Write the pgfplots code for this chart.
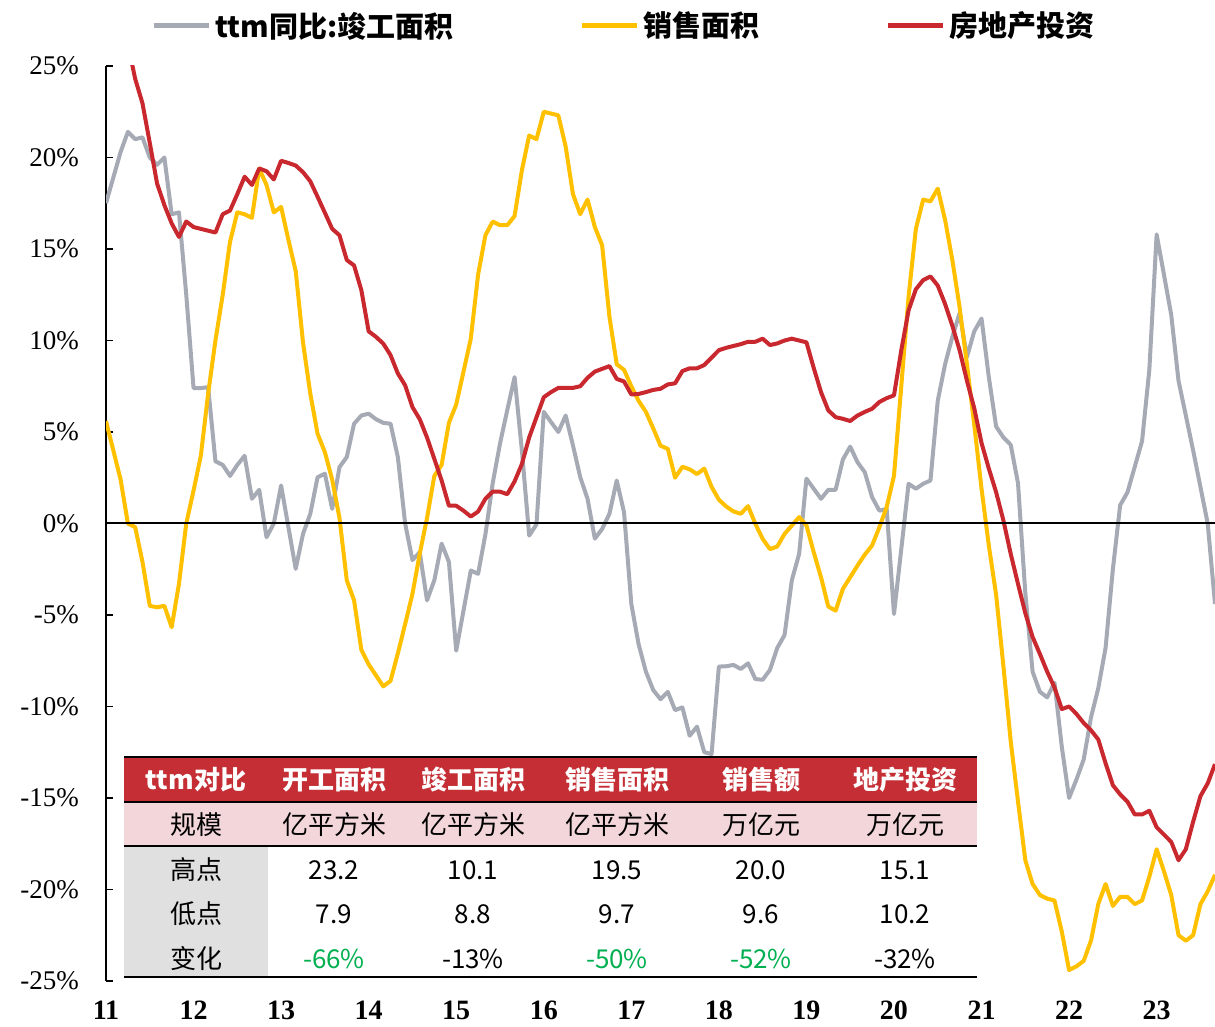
\documentclass[border=0pt]{standalone}
\usepackage{fontspec}
\setmainfont{Liberation Serif}
\newfontfamily\cjk{Noto Sans CJK SC}
\usepackage{pgfplots}
\usepackage{pgfplotstable}
\pgfplotsset{compat=1.18}

\definecolor{lineGray}{RGB}{165,170,180}
\definecolor{lineYellow}{RGB}{255,192,0}
\definecolor{lineRed}{RGB}{200,40,46}
\definecolor{tabRed}{RGB}{196,46,52}
\definecolor{tabPink}{RGB}{242,214,217}
\definecolor{tabGray}{RGB}{224,224,224}
\definecolor{tabGreen}{RGB}{0,176,80}

% i = month index from 2011-01; g = ttm completed area, s = sales area, r = investment (yoy, %)
\pgfplotstableread{
i g s r
0 17.5 5.6 30.0
1 18.9 4.0 29.0
2 20.3 2.4 27.8
3 21.4 0.0 26.2
4 21.0 -0.2 24.3
5 21.1 -2.1 22.96
6 20.0 -4.5 20.8
7 19.6 -4.58 18.58
8 20.0 -4.5 17.4
9 16.9 -5.67 16.4
10 17.0 -3.3 15.66
11 12.5 0.0 16.5
12 7.4 1.8 16.2
13 7.4 3.7 16.1
14 7.45 7.1 16.0
15 3.4 10.0 15.9
16 3.2 12.5 16.9
17 2.6 15.4 17.1
18 3.2 17.0 18.0
19 3.7 16.9 18.95
20 1.35 16.7 18.5
21 1.84 19.4 19.4
22 -0.75 18.5 19.25
23 0.0 17.0 18.8
24 2.08 17.3 19.82
25 -0.2 15.5 19.7
26 -2.48 13.8 19.56
27 -0.57 9.9 19.2
28 0.53 7.1 18.7
29 2.53 4.9 17.85
30 2.72 3.9 16.98
31 0.8 2.4 16.1
32 3.08 0.3 15.75
33 3.63 -3.1 14.4
34 5.45 -4.2 14.1
35 5.9 -6.9 12.75
36 6.0 -7.7 10.5
37 5.7 -8.3 10.2
38 5.5 -8.9 9.83
39 5.45 -8.6 9.2
40 3.63 -7.1 8.2
41 0.0 -5.5 7.55
42 -2.0 -3.85 6.36
43 -1.57 -1.66 5.7
44 -4.2 0.3 4.7
45 -3.1 2.6 3.53
46 -1.1 3.2 2.35
47 -2.1 5.5 0.97
48 -6.95 6.5 0.97
49 -4.76 8.3 0.7
50 -2.57 10.1 0.38
51 -2.75 13.6 0.65
52 -0.6 15.75 1.35
53 2.2 16.5 1.74
54 4.36 16.3 1.74
55 6.2 16.3 1.6
56 8.0 16.8 2.3
57 4.0 19.3 3.25
58 -0.66 21.2 4.7
59 -0.05 21.0 5.8
60 6.1 22.5 6.9
61 5.54 22.4 7.18
62 5.0 22.3 7.41
63 5.9 20.6 7.41
64 4.27 18.0 7.41
65 2.53 16.9 7.5
66 1.35 17.7 7.96
67 -0.83 16.2 8.3
68 -0.3 15.2 8.45
69 0.53 11.3 8.6
70 2.35 8.7 7.9
71 0.62 8.4 7.76
72 -4.4 7.5 7.05
73 -6.6 6.7 7.08
74 -8.1 6.1 7.18
75 -9.1 5.2 7.3
76 -9.6 4.25 7.36
77 -9.2 4.08 7.6
78 -10.2 2.5 7.66
79 -10.05 3.1 8.33
80 -11.6 2.96 8.48
81 -11.1 2.7 8.48
82 -12.5 3.0 8.66
83 -12.6 2.0 9.06
84 -7.82 1.3 9.47
85 -7.8 0.93 9.6
86 -7.73 0.66 9.7
87 -7.95 0.53 9.8
88 -7.64 0.95 9.93
89 -8.5 -0.02 9.93
90 -8.54 -0.84 10.1
91 -8.0 -1.4 9.75
92 -6.8 -1.26 9.84
93 -6.1 -0.57 10.0
94 -3.1 -0.11 10.1
95 -1.66 0.35 10.0
96 2.45 -0.1 9.9
97 1.9 -1.57 8.5
98 1.35 -2.94 7.18
99 1.84 -4.54 6.18
100 1.84 -4.76 5.81
101 3.5 -3.57 5.72
102 4.2 -2.94 5.6
103 3.35 -2.3 5.9
104 2.8 -1.7 6.1
105 1.44 -1.2 6.27
106 0.7 -0.2 6.64
107 0.8 0.9 6.85
108 -4.95 2.6 7.0
109 -1.4 7.5 9.46
110 2.17 12.4 11.65
111 1.9 16.1 12.8
112 2.17 17.7 13.3
113 2.35 17.6 13.5
114 6.7 18.3 13.0
115 8.7 16.6 12.0
116 10.2 14.4 10.8
117 11.5 11.8 9.46
118 9.1 8.7 7.8
119 10.5 5.4 6.3
120 11.2 1.9 4.4
121 8.0 -1.2 3.0
122 5.3 -3.9 1.71
123 4.7 -7.8 0.16
124 4.3 -11.9 -1.66
125 2.2 -15.2 -3.3
126 -3.8 -18.4 -4.9
127 -8.1 -19.7 -6.2
128 -9.2 -20.3 -7.13
129 -9.5 -20.5 -8.1
130 -8.7 -20.6 -8.96
131 -12.2 -22.3 -10.14
132 -15.0 -24.4 -10.0
133 -14.0 -24.2 -10.4
134 -12.9 -23.9 -10.9
135 -10.6 -22.8 -11.3
136 -9.0 -20.8 -11.8
137 -6.8 -19.7 -13.1
138 -2.5 -20.9 -14.3
139 1.0 -20.4 -14.8
140 1.7 -20.4 -15.2
141 3.1 -20.8 -15.9
142 4.5 -20.6 -15.9
143 8.4 -19.3 -15.7
144 15.8 -17.8 -16.6
145 13.6 -19.0 -17.0
146 11.4 -20.3 -17.4
147 7.8 -22.5 -18.4
148 5.9 -22.8 -17.8
149 4.0 -22.5 -16.3
150 2.0 -20.8 -14.9
151 0.0 -20.1 -14.2
152 -4.4 -19.2 -13.15
}\ttmdata

\newcommand{\tabfont}{\cjk\fontsize{13}{15}\selectfont}

\begin{document}
\begin{tikzpicture}[x=1pt,y=1pt]
    \path[use as bounding box] (-53,-23) rectangle (554.5,490.5);

    \begin{axis}[
            at={(0,0)},
            anchor=south west,
            scale only axis,
            width=554.5pt,
            height=457.5pt,
            xmin=0, xmax=152,
            ymin=-25, ymax=25,
            axis y line*=left,
            axis x line*=bottom,
            axis line style={-},
            x axis line style={draw=none},
            y axis line style={black, line width=1pt},
            xtick={0,12,24,36,48,60,72,84,96,108,120,132,144},
            xticklabels={11,12,13,14,15,16,17,18,19,20,21,22,23},
            xtick style={draw=none},
            xticklabel style={font=\bfseries\fontsize{14}{16}\selectfont, inner sep=0pt, anchor=base, yshift=-19.5pt},
            ytick={-25,-20,-15,-10,-5,0,5,10,15,20,25},
            yticklabels={-25\%,-20\%,-15\%,-10\%,-5\%,0\%,5\%,10\%,15\%,20\%,25\%},
            yticklabel style={font=\fontsize{13.5}{16}\selectfont, xshift=-10pt},
            ytick style={black, line width=0.8pt},
            tick align=inside,
            major tick length=3.5pt,
            legend columns=3,
            legend style={
                    at={(0.468,1)},
                    anchor=center,
                    yshift=20pt,
                    draw=none,
                    fill=none,
                    font=\cjk\bfseries\fontsize{14.5}{16}\selectfont,
                    /tikz/every even column/.append style={column sep=61pt},
                },
            legend image code/.code={\draw[line width=2.5pt] (0pt,0pt) -- (27.5pt,0pt);},
        ]

        \addplot[lineGray, line width=2pt, line join=round] table[x=i, y=g] {\ttmdata};
        \addlegendentry{ttm同比:竣工面积}

        \addplot[lineYellow, line width=2pt, line join=round] table[x=i, y=s] {\ttmdata};
        \addlegendentry{销售面积}

        \addplot[lineRed, line width=2pt, line join=round] table[x=i, y=r] {\ttmdata};
        \addlegendentry{房地产投资}

        \draw[black, line width=1pt] (axis cs:0,0) -- (axis cs:152,0);
    \end{axis}

    % summary table
    \fill[tabRed] (9,89.5) rectangle (435.5,112);
    \fill[tabPink] (9,67.5) rectangle (435.5,89.5);
    \fill[white] (81,2) rectangle (435.5,67.5);
    \fill[tabGray] (9,2) rectangle (81,67.5);
    \foreach \yy in {112,89.5,67.5,2} {
        \draw[black, line width=0.8pt] (9,\yy) -- (435.5,\yy);
    }

    \foreach \xx/\txt in {45/ttm对比,114/开工面积,183.5/竣工面积,255.5/销售面积,327.5/销售额,399.5/地产投资} {
        \node[text=white, font=\tabfont\bfseries] at (\xx,100.5) {\txt};
    }
    \foreach \xx/\txt in {45/规模,114/亿平方米,183.5/亿平方米,255.5/亿平方米,327.5/万亿元,399.5/万亿元} {
        \node[font=\tabfont] at (\xx,78) {\txt};
    }
    \foreach \xx/\txt in {45/高点,114/23.2,183.5/10.1,255.5/19.5,327.5/20.0,399.5/15.1} {
        \node[font=\tabfont] at (\xx,55.5) {\txt};
    }
    \foreach \xx/\txt in {45/低点,114/7.9,183.5/8.8,255.5/9.7,327.5/9.6,399.5/10.2} {
        \node[font=\tabfont] at (\xx,33.5) {\txt};
    }
    \node[font=\tabfont] at (45,11) {变化};
    \node[font=\tabfont, text=tabGreen] at (114,11) {-66\%};
    \node[font=\tabfont] at (183.5,11) {-13\%};
    \node[font=\tabfont, text=tabGreen] at (255.5,11) {-50\%};
    \node[font=\tabfont, text=tabGreen] at (327.5,11) {-52\%};
    \node[font=\tabfont] at (399.5,11) {-32\%};
\end{tikzpicture}
\end{document}
